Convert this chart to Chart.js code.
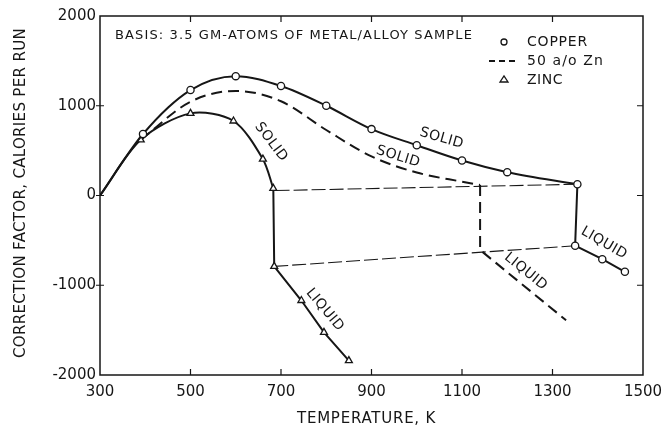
<!DOCTYPE html>
<html>
<head>
<meta charset="utf-8">
<script src="https://cdn.jsdelivr.net/npm/chart.js@4.4.1/dist/chart.umd.min.js"></script>
<style>
  html, body { margin: 0; background: #fff; }
  #wrap { width: 672px; height: 427px; }
</style>
</head>
<body>
<div id="wrap"><canvas id="calChart"></canvas></div>
<script>
// values: temperature (K) -> correction factor (cal per run)
const copperSolidT = [300, 395, 500, 600, 700, 800, 900, 1000, 1100, 1200, 1355];
const copperSolidC = [0, 685, 1175, 1330, 1220, 1000, 740, 560, 390, 260, 125];
const copperLiquidT = [1355, 1350, 1410, 1460];
const copperLiquidC = [125, -560, -710, -850];

const zincSolidT = [300, 390, 500, 595, 660, 683];
const zincSolidC = [0, 620, 915, 830, 405, 80];
const zincLiquidT = [683, 685, 745, 795, 850];
const zincLiquidC = [80, -790, -1170, -1525, -1840];

const alloySolidT = [390, 500, 600, 700, 800, 900, 1000, 1100, 1140];
const alloySolidC = [620, 1045, 1165, 1050, 730, 435, 256, 154, 117];
const alloyLiquidT = [1140, 1140, 1330];
const alloyLiquidC = [117, -607, -1390];

// thin dashed tie lines between the melting steps
const tieTopT = [688, 1355];
const tieTopC = [55, 125];
const tieBottomT = [685, 1350];
const tieBottomC = [-790, -560];

const xTicks = [300, 500, 700, 900, 1100, 1300, 1500];
const yTicks = [-2000, -1000, 0, 1000, 2000];

const ink = '#161616';

function pts(ts, cs) {
  return ts.map((t, i) => ({ x: t, y: cs[i] }));
}

function line(ts, cs, extra) {
  return Object.assign({
    data: pts(ts, cs),
    showLine: true,
    borderColor: ink,
    backgroundColor: '#fff',
    borderWidth: 2,
    pointRadius: 0,
    pointBorderWidth: 1.3,
    pointBorderColor: ink,
    pointBackgroundColor: '#fff',
    tension: 0,
  }, extra);
}

// text placed along the curves
const phaseNotes = [
  { text: 'SOLID', t: 678, c: 596, angle: 53 },
  { text: 'SOLID', t: 1055, c: 637, angle: 16 },
  { text: 'SOLID', t: 959, c: 432, angle: 17 },
  { text: 'LIQUID', t: 797, c: -1275, angle: 50 },
  { text: 'LIQUID', t: 1241, c: -849, angle: 39 },
  { text: 'LIQUID', t: 1414, c: -532, angle: 30 },
];

function spaced(ctx, text, x, y, width) {
  ctx.letterSpacing = '0px';
  const w = ctx.measureText(text).width;
  if (width) ctx.letterSpacing = ((width - w) / text.length) + 'px';
  ctx.fillText(text, x, y);
  ctx.letterSpacing = '0px';
}

const decor = {
  id: 'decor',
  afterDatasetsDraw(chart) {
    const { ctx, chartArea: a, scales: { x, y } } = chart;
    ctx.save();
    ctx.strokeStyle = ink;
    ctx.fillStyle = ink;

    // frame
    ctx.lineWidth = 1.5;
    ctx.strokeRect(a.left, a.top, a.right - a.left, a.bottom - a.top);

    // inward ticks
    ctx.lineWidth = 1.2;
    ctx.beginPath();
    xTicks.slice(1, -1).forEach(v => {
      const px = x.getPixelForValue(v);
      ctx.moveTo(px, a.top); ctx.lineTo(px, a.top + 6);
      ctx.moveTo(px, a.bottom); ctx.lineTo(px, a.bottom - 6);
    });
    yTicks.slice(1, -1).forEach(v => {
      const py = y.getPixelForValue(v);
      ctx.moveTo(a.left - 4, py); ctx.lineTo(a.left + 4, py);
      ctx.moveTo(a.right, py); ctx.lineTo(a.right - 6, py);
    });
    ctx.stroke();

    // axis titles
    ctx.textBaseline = 'middle';
    ctx.textAlign = 'left';
    ctx.font = '15px "DejaVu Sans"';
    spaced(ctx, 'TEMPERATURE, K', 297, 419, 139);
    ctx.save();
    ctx.translate(21, 358);
    ctx.rotate(-Math.PI / 2);
    spaced(ctx, 'CORRECTION FACTOR, CALORIES PER RUN', 0, 0, 330);
    ctx.restore();

    // basis note
    ctx.font = '13px "DejaVu Sans"';
    spaced(ctx, 'BASIS: 3.5 GM-ATOMS OF METAL/ALLOY SAMPLE', 115, 36, 358);

    // legend
    ctx.font = '14px "DejaVu Sans"';
    spaced(ctx, 'COPPER', 527, 42, 61);
    spaced(ctx, '50 a/o Zn', 527, 61, 77);
    spaced(ctx, 'ZINC', 527, 80, 36);
    ctx.lineWidth = 1.3;
    ctx.beginPath();
    ctx.arc(504, 42, 3, 0, Math.PI * 2);
    ctx.stroke();
    ctx.beginPath();
    ctx.moveTo(500, 82); ctx.lineTo(504, 76); ctx.lineTo(508, 82); ctx.closePath();
    ctx.stroke();
    ctx.lineWidth = 1.8;
    ctx.setLineDash([6, 4]);
    ctx.beginPath();
    ctx.moveTo(489, 61); ctx.lineTo(517, 61);
    ctx.stroke();
    ctx.setLineDash([]);

    // phase labels
    ctx.font = '14px "DejaVu Sans"';
    ctx.textAlign = 'center';
    phaseNotes.forEach(n => {
      ctx.save();
      ctx.translate(x.getPixelForValue(n.t), y.getPixelForValue(n.c));
      ctx.rotate(n.angle * Math.PI / 180);
      ctx.letterSpacing = '0.5px';
      ctx.fillText(n.text, 0, 0);
      ctx.restore();
    });
    ctx.restore();
  }
};

const tickFont = { family: 'DejaVu Sans', size: 15 };

new Chart(document.getElementById('calChart').getContext('2d'), {
  type: 'scatter',
  data: {
    datasets: [
      line(copperSolidT, copperSolidC, {
        cubicInterpolationMode: 'monotone',
        pointStyle: 'circle',
        pointRadius: copperSolidT.map((t, i) => (i === 0 ? 0 : 3.6)),
      }),
      line(copperLiquidT, copperLiquidC, {
        pointStyle: 'circle',
        pointRadius: copperLiquidT.map((t, i) => (i === 0 ? 0 : 3.6)),
      }),
      line(zincSolidT, zincSolidC, {
        tension: 0.3,
        pointStyle: 'triangle',
        pointRadius: zincSolidT.map((t, i) => (i === 0 ? 0 : 4)),
      }),
      line(zincLiquidT, zincLiquidC, {
        pointStyle: 'triangle',
        pointRadius: zincLiquidT.map((t, i) => (i === 0 ? 0 : 4)),
      }),
      line(alloySolidT, alloySolidC, { cubicInterpolationMode: 'monotone', borderDash: [11, 6] }),
      line(alloyLiquidT, alloyLiquidC, { borderDash: [11, 6] }),
      line(tieTopT, tieTopC, { borderWidth: 1.1, borderDash: [14, 4] }),
      line(tieBottomT, tieBottomC, { borderWidth: 1.1, borderDash: [14, 4] }),
    ]
  },
  options: {
    responsive: true,
    maintainAspectRatio: false,
    animation: false,
    layout: { padding: { top: 16, right: 29, left: 0, bottom: 0 } },
    plugins: { legend: { display: false }, tooltip: { enabled: false } },
    scales: {
      x: {
        type: 'linear',
        min: 300,
        max: 1500,
        afterBuildTicks: s => { s.ticks = xTicks.map(v => ({ value: v })); },
        afterFit: s => { s.height = 52; },
        grid: { display: false, drawTicks: false },
        border: { display: false },
        ticks: { color: ink, padding: 8, font: tickFont, callback: v => String(v) },
      },
      y: {
        type: 'linear',
        min: -2000,
        max: 2000,
        afterBuildTicks: s => { s.ticks = yTicks.map(v => ({ value: v })); },
        afterFit: s => { s.width = 100; },
        grid: { display: false, drawTicks: false },
        border: { display: false },
        ticks: { color: ink, padding: 4, font: tickFont, callback: v => String(v) },
      }
    }
  },
  plugins: [decor]
});
</script>
</body>
</html>
